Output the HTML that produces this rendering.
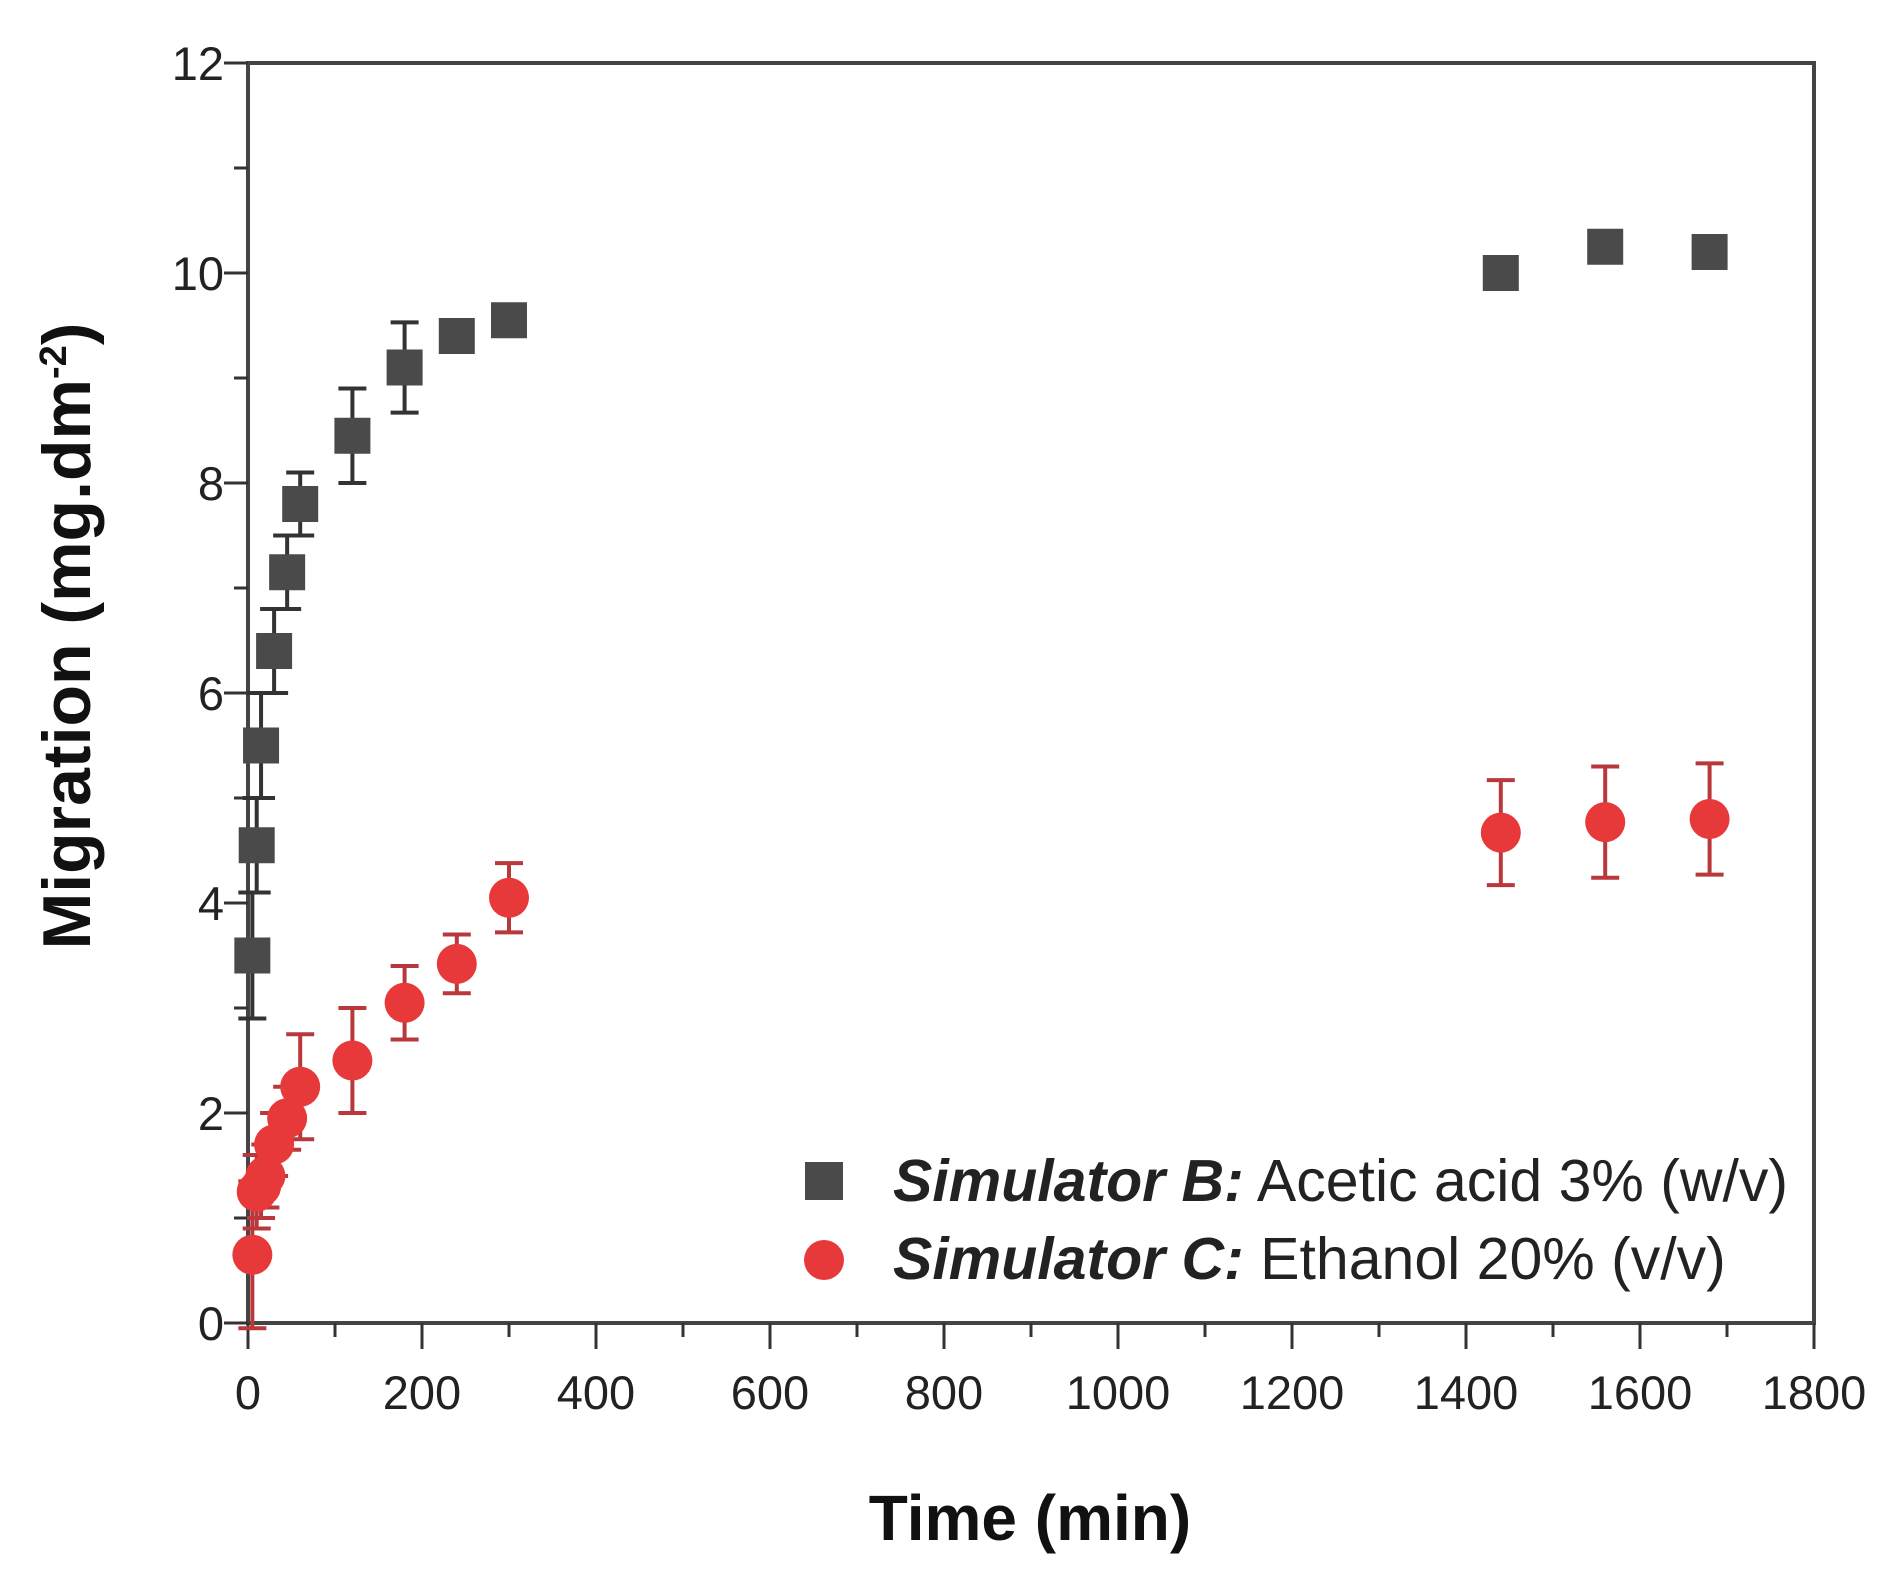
<!DOCTYPE html>
<html><head><meta charset="utf-8"><style>
html,body{margin:0;padding:0;background:#fff;}
svg{display:block;font-family:"Liberation Sans",Arial,sans-serif;}
</style></head><body>
<svg id="chart" width="1899" height="1577" viewBox="0 0 1899 1577">
<g id="axes"></g>
<g id="marks"></g>
<text x="1030" y="1540" text-anchor="middle" font-size="64" font-weight="bold" fill="#111">Time (min)</text>
<text transform="translate(90,636) rotate(-90)" text-anchor="middle" font-size="68" font-weight="bold" fill="#111">Migration (mg.dm<tspan dy="-24" font-size="38">-2</tspan><tspan dy="24">)</tspan></text>
<g>
<rect x="805" y="1162" width="38" height="38" fill="#4a4a4a"/>
<text x="893" y="1201" font-size="59" fill="#222"><tspan font-weight="bold" font-style="italic">Simulator B:</tspan> Acetic acid 3% (w/v)</text>
<circle cx="824" cy="1260" r="20" fill="#e8393a"/>
<text x="893" y="1279" font-size="59" fill="#222"><tspan font-weight="bold" font-style="italic">Simulator C:</tspan> Ethanol 20% (v/v)</text>
</g>
</svg>
<script>
const timesB=[5,10,15,30,45,60,120,180,240,300,1440,1560,1680];
const valuesB=[3.5,4.55,5.5,6.4,7.15,7.8,8.45,9.1,9.4,9.55,10.0,10.25,10.2];
const errB=[0.6,0.45,0.5,0.4,0.35,0.3,0.45,0.43,0.1,0.1,0.1,0.05,0.05];
const timesC=[5,10,15,20,30,45,60,120,180,240,300,1440,1560,1680];
const valuesC=[0.65,1.25,1.3,1.4,1.7,1.95,2.25,2.5,3.05,3.42,4.05,4.67,4.77,4.8];
const errC=[0.7,0.35,0.3,0.3,0.3,0.3,0.5,0.5,0.35,0.28,0.33,0.5,0.53,0.53];
const xTicks=[0,200,400,600,800,1000,1200,1400,1600,1800];
const yTicks=[0,2,4,6,8,10,12];
const X0=248,X1=1814,Y0=1323,Y1=63;
const sx=v=>X0+(v/1800)*(X1-X0);
const sy=v=>Y0-(v/12)*(Y0-Y1);
const NS="http://www.w3.org/2000/svg";
const axes=document.getElementById('axes'),marks=document.getElementById('marks');
function mk(t,a,p){const e=document.createElementNS(NS,t);for(const k in a)e.setAttribute(k,a[k]);p.appendChild(e);return e;}
let e;
e=mk('rect',{x:X0,y:Y1,width:X1-X0,height:Y0-Y1,fill:'none',stroke:'#444','stroke-width':4},axes);


for(let v=0;v<=1800;v+=100){const maj=v%200===0;
 e=mk('line',{x1:sx(v),x2:sx(v),y1:Y0,y2:Y0+(maj?26:14),stroke:'#333','stroke-width':3},axes);
 
 }
xTicks.forEach(v=>{e=mk('text',{x:sx(v),y:Y0+86,'text-anchor':'middle','font-size':47,fill:'#222'},axes);e.textContent=v;
 
 });
for(let v=0;v<=12;v+=1){const maj=v%2===0;
 e=mk('line',{x1:X0-(maj?24:14),x2:X0,y1:sy(v),y2:sy(v),stroke:'#333','stroke-width':3},axes);
 
 }
yTicks.forEach(v=>{e=mk('text',{x:X0-24,y:sy(v)+17,'text-anchor':'end','font-size':47,fill:'#222'},axes);e.textContent=v;
 
 });
function errbar(t,v,er,col){
 const g=mk('g',{stroke:col,'stroke-width':4},marks);
 
 
 mk('line',{x1:sx(t),x2:sx(t),y1:sy(v+er),y2:sy(v-er)},g);
 mk('line',{x1:sx(t)-14,x2:sx(t)+14,y1:sy(v+er),y2:sy(v+er)},g);
 mk('line',{x1:sx(t)-14,x2:sx(t)+14,y1:sy(v-er),y2:sy(v-er)},g);}
timesB.forEach((t,i)=>errbar(t,valuesB[i],errB[i],'#333'));
timesB.forEach((t,i)=>{e=mk('rect',{x:sx(t)-18,y:sy(valuesB[i])-18,width:36,height:36,fill:'#4a4a4a'},marks);
 
 });
timesC.forEach((t,i)=>errbar(t,valuesC[i],errC[i],'#b8383c'));
timesC.forEach((t,i)=>{e=mk('circle',{cx:sx(t),cy:sy(valuesC[i]),r:20,fill:'#e8393a'},marks);
 
 });
</script>
</body></html>
